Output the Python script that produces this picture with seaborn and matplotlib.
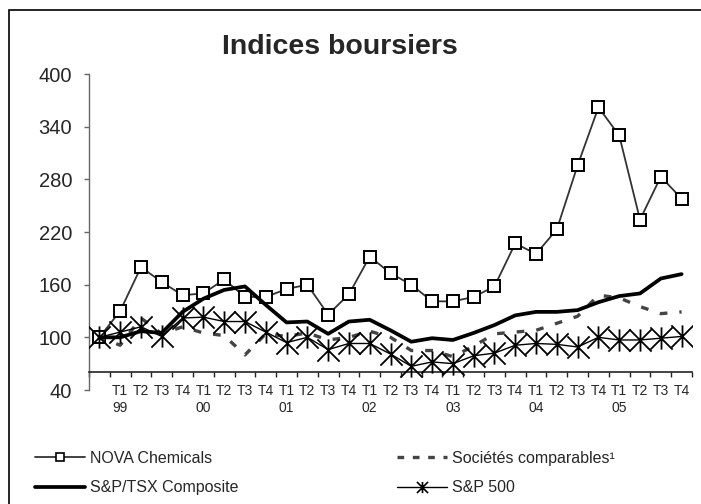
import numpy as np
import pandas as pd
import matplotlib
matplotlib.use("Agg")
import matplotlib.pyplot as plt
import matplotlib.transforms as mtrans
from matplotlib.path import Path
from matplotlib.lines import Line2D
from matplotlib.patches import Rectangle
import seaborn as sns

# ---------------- data ----------------
quarter_labels = [""] + ["T1", "T2", "T3", "T4"] * 7
year_labels = ["99", "00", "01", "02", "03", "04", "05"]
year_positions = [1, 5, 9, 13, 17, 21, 25]

nova = [100, 130, 180, 163, 148, 150, 166, 146, 146, 155, 160, 126, 149, 192,
        173, 160, 141, 141, 146, 158, 207, 195, 223, 296, 362, 330, 234, 283, 258]
societes = [100, 91, 122, 104, 112, 105, 102, 80, 104, 101, 105, 97, 100, 107,
            100, 85, 85, 78, 90, 104, 106, 108, 116, 124, 148, 145, 135, 127, 129]
tsx = [100, 100, 107, 105, 129, 144, 154, 158, 137, 117, 118, 104, 118, 120,
       108, 95, 99, 97, 105, 114, 125, 129, 129, 131, 140, 147, 150, 167, 172]
sp500 = [100, 106, 112, 101, 122, 123, 118, 118, 106, 94, 100, 86, 93, 93,
         81, 67, 72, 70, 79, 82, 91, 93, 92, 89, 100, 97, 97, 99, 101]

series_names = ["NOVA Chemicals", "Sociétés comparables¹", "S&P/TSX Composite", "S&P 500"]
title = "Indices boursiers"

idx = np.arange(len(nova))
df = pd.DataFrame({"q": idx, "nova": nova, "soc": societes, "tsx": tsx, "sp": sp500})

# ---------------- style ----------------
sns.set_style("white")
plt.rcParams["font.family"] = ["Liberation Sans", "DejaVu Sans"]

W, H = 701, 504
fig = plt.figure(figsize=(W / 100, H / 100), dpi=100)
ax = fig.add_axes([89 / W, 114 / H, (692 - 89) / W, 316 / H])

# star marker (X + vertical bar)
star = Path([(-1, -1), (1, 1), (-1, 1), (1, -1), (0, -1), (0, 1)],
            [Path.MOVETO, Path.LINETO, Path.MOVETO, Path.LINETO, Path.MOVETO, Path.LINETO])

sns.lineplot(data=df, x="q", y="nova", ax=ax, color="#333333", lw=1.3,
             marker="s", markersize=8, markerfacecolor="white",
             markeredgecolor="black", markeredgewidth=1.4, zorder=2)
sns.lineplot(data=df, x="q", y="soc", ax=ax, color="#444444", lw=2.4, zorder=3)
ax.lines[-1].set_linestyle((0.5, (2.3, 3.6)))
sns.lineplot(data=df, x="q", y="tsx", ax=ax, color="black", lw=2.7, zorder=4,
             solid_joinstyle="round")
sns.lineplot(data=df, x="q", y="sp", ax=ax, color="black", lw=1.0,
             marker=star, markersize=16, markeredgecolor="black",
             markeredgewidth=1.3, zorder=5)

# ---------------- axes ----------------
ax.set_xlim(-0.5, 28.5)
ax.set_ylim(40, 400)
ax.set_yticks([40, 100, 160, 220, 280, 340, 400])
ax.set_xlabel("")
ax.set_ylabel("")
for s in ["top", "right"]:
    ax.spines[s].set_visible(False)
ax.spines["left"].set_color("#666666")
ax.spines["left"].set_linewidth(1.0)
ax.spines["bottom"].set_position(("data", 60))
ax.spines["bottom"].set_color("#222222")
ax.spines["bottom"].set_linewidth(1.2)

ax.tick_params(axis="y", which="major", direction="out", length=3.6, width=1.0,
               color="#666666", pad=8.5, labelsize=14.5, left=True)
ax.set_xticks(idx)
ax.set_xticklabels(quarter_labels, fontsize=10)
ax.set_xticks(np.arange(-0.5, 29, 1), minor=True)
ax.tick_params(axis="x", which="major", length=0, pad=8.5, bottom=True)
ax.tick_params(axis="x", which="minor", direction="out", length=3.6, width=1.0,
               color="#222222", bottom=True)

trans = mtrans.blended_transform_factory(ax.transData, fig.transFigure)
for p, lab in zip(year_positions, year_labels):
    ax.text(p, 1 - 408 / H, lab, transform=trans, ha="center", va="center",
            fontsize=10)

# ---------------- title ----------------
fig.text(340 / W, 1 - 47 / H, title, ha="center", va="center",
         fontsize=20.5, fontweight="bold")

# ---------------- legend ----------------
handles = [
    Line2D([], [], color="#333333", lw=1.3, marker="s", markersize=6,
           markerfacecolor="white", markeredgecolor="black", markeredgewidth=1.2),
    Line2D([], [], color="black", lw=2.7),
    Line2D([], [], color="#444444", lw=2.4, linestyle=(0, (2.0, 2.6))),
    Line2D([], [], color="black", lw=1.0, marker=star, markersize=8,
           markeredgecolor="black", markeredgewidth=1.2),
]
labels = [series_names[0], series_names[2], series_names[1], series_names[3]]
fig.legend(handles, labels, ncol=2, loc="upper left",
           bbox_to_anchor=(35 / W, 1 - 451 / H), frameon=False,
           prop={"size": 11.5}, handlelength=3.13,
           handletextpad=0.3, columnspacing=9.95, labelspacing=0.9,
           borderpad=0, borderaxespad=0)

# ---------------- outer frame ----------------
fig.add_artist(Rectangle((9 / W, -0.2), 2.0, 1.2 - 10 / H, transform=fig.transFigure,
                         fill=False, edgecolor="black", lw=1.2))

fig.savefig("out.png", dpi=100)
